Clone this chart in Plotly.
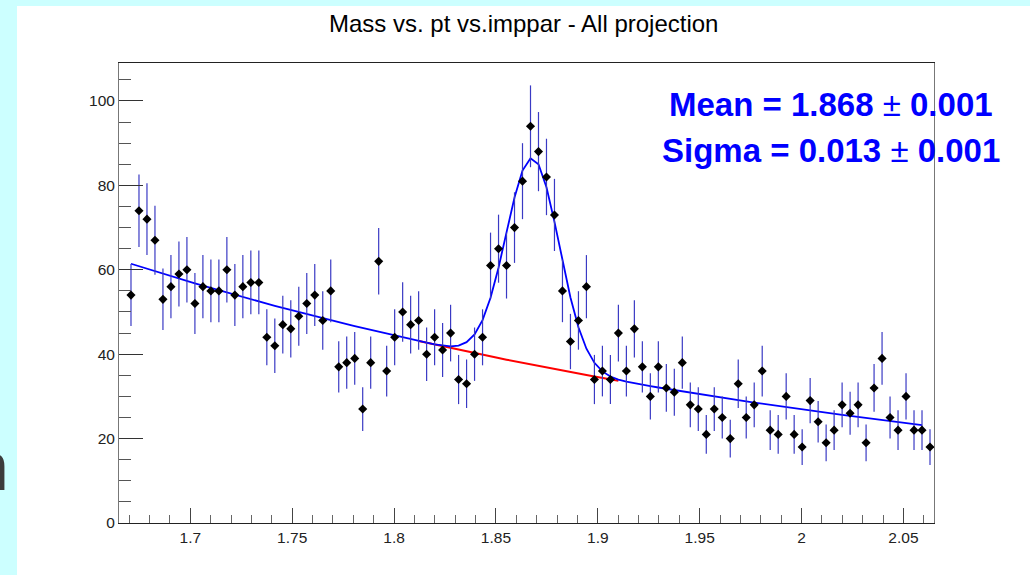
import numpy as np
import plotly.graph_objects as go

# ---- data (histogram: 102 bins over [1.665, 2.065], first bin empty) ----
x_min, x_max, n_bins = 1.665, 2.065, 102
counts = [54, 74, 72, 67, 53, 56, 59, 60, 52, 56, 55, 55, 60, 54, 56, 57, 57, 44, 42, 47,
          46, 49, 52, 54, 48, 55, 37, 38, 39, 27, 38, 62, 36, 44,
          50, 47, 48, 40, 44, 41, 45, 34, 33, 40, 44, 61, 65, 61, 70, 81, 94, 88, 82, 73,
          55, 43, 48, 56, 34, 36, 34, 45, 36, 46, 37, 30, 37, 32,
          31, 38, 28, 27, 21, 27, 25, 20, 33, 25, 28, 36, 22, 21, 30, 21, 18, 29, 24, 19,
          22, 28, 26, 28, 19, 32, 39, 25, 22, 30, 22, 22, 18]
bin_width = (x_max - x_min) / n_bins
centers = x_min + (np.arange(1, 1 + len(counts)) + 0.5) * bin_width

# fit parameters (exponential background + gaussian)
bkg_ref_x = 1.6711
bkg_ref_y = 61.4
bkg_slope = -2.507
gaus_amp = 49.0
gaus_mean = 1.868
gaus_sigma = 0.013
fit_lo, fit_hi = 1.668, 2.061
bkg_lo, bkg_hi = 1.810, 1.913

x_tickvals = [1.7, 1.75, 1.8, 1.85, 1.9, 1.95, 2.0, 2.05]
x_ticktext = ["1.7", "1.75", "1.8", "1.85", "1.9", "1.95", "2", "2.05"]
y_tickvals = [0, 20, 40, 60, 80, 100]
y_ticktext = ["0", "20", "40", "60", "80", "100"]

title_text = "Mass vs. pt vs.imppar - All projection"
mean_text = "<b>Mean = 1.868 </b>±<b> 0.001</b>"
sigma_text = "<b>Sigma = 0.013 </b>±<b> 0.001</b>"


def bkg(m):
    return bkg_ref_y * np.exp(bkg_slope * (m - bkg_ref_x))


def total(m):
    return bkg(m) + gaus_amp * np.exp(-0.5 * ((m - gaus_mean) / gaus_sigma) ** 2)


xf = centers[(centers >= fit_lo) & (centers <= fit_hi)]
xb = centers[(centers >= bkg_lo) & (centers <= bkg_hi)]

# ---- layout geometry (pixels) ----
W, H = 1030, 575
L, R, T, B = 119, 96, 63, 52
pw, ph = W - L - R, H - T - B


def px2paper_x(px):
    return (px - L) / pw


def px2paper_y(py):
    return (H - B - py) / ph


fig = go.Figure()

fig.add_trace(go.Scatter(x=xb, y=bkg(xb), mode="lines",
                         line=dict(color="#ff0000", width=2), hoverinfo="skip"))
fig.add_trace(go.Scatter(x=xf, y=total(xf), mode="lines",
                         line=dict(color="#0000ff", width=1.8), hoverinfo="skip"))
fig.add_trace(go.Scatter(
    x=centers, y=counts, mode="markers",
    marker=dict(symbol="diamond", size=7, color="black"),
    error_y=dict(type="sqrt", visible=True, thickness=1.2, width=0, color="#3a3ac4"),
))

shapes = [
    dict(type="rect", xref="paper", yref="paper",
         x0=px2paper_x(-5), x1=px2paper_x(17), y0=px2paper_y(H + 5), y1=px2paper_y(-5),
         fillcolor="#ccffff", line=dict(width=0), layer="below"),
    dict(type="rect", xref="paper", yref="paper",
         x0=px2paper_x(-5), x1=px2paper_x(W + 5), y0=px2paper_y(6), y1=px2paper_y(-5),
         fillcolor="#ccffff", line=dict(width=0), layer="below"),
]

annotations = [
    dict(text=title_text, xref="paper", yref="paper", x=px2paper_x(523), y=px2paper_y(24),
         xanchor="center", yanchor="middle", showarrow=False,
         font=dict(family="Liberation Sans, Arial", size=24, color="black")),
    dict(text=mean_text, xref="paper", yref="paper", x=px2paper_x(995), y=px2paper_y(104),
         xanchor="right", yanchor="middle", showarrow=False,
         font=dict(family="Liberation Sans, Arial", size=33, color="#0000ff")),
    dict(text=sigma_text, xref="paper", yref="paper", x=px2paper_x(1002), y=px2paper_y(150),
         xanchor="right", yanchor="middle", showarrow=False,
         font=dict(family="Liberation Sans, Arial", size=33, color="#0000ff")),
    dict(text="n", xref="paper", yref="paper", x=px2paper_x(11), y=px2paper_y(466),
         xanchor="right", yanchor="middle", showarrow=False,
         font=dict(family="Liberation Sans, Arial", size=68, color="#3c3c3c")),
]

fig.update_layout(
    width=W, height=H,
    margin=dict(l=L, r=R, t=T, b=B, pad=0),
    paper_bgcolor="white", plot_bgcolor="white",
    showlegend=False,
    shapes=shapes, annotations=annotations,
    xaxis=dict(range=[x_min, x_max], tickvals=x_tickvals, ticktext=x_ticktext,
               ticks="inside", ticklen=15, tickcolor="#444", tickwidth=1,
               minor=dict(ticks="inside", ticklen=8, dtick=0.01, tick0=1.7, tickcolor="#666"),
               showgrid=False, zeroline=False,
               showline=True, linecolor="#222", linewidth=1, mirror=True,
               tickfont=dict(family="Liberation Sans, Arial", size=15.5, color="#222")),
    yaxis=dict(range=[0, 109], tickvals=y_tickvals, ticktext=y_ticktext,
               ticks="inside", ticklen=24, tickcolor="#333", tickwidth=1,
               minor=dict(ticks="inside", ticklen=12, dtick=5, tick0=0, tickcolor="#555"),
               showgrid=False, zeroline=False,
               showline=True, linecolor="#777", linewidth=1, mirror=True,
               tickfont=dict(family="Liberation Sans, Arial", size=15.5, color="#222")),
)

fig.write_html("out.html")
